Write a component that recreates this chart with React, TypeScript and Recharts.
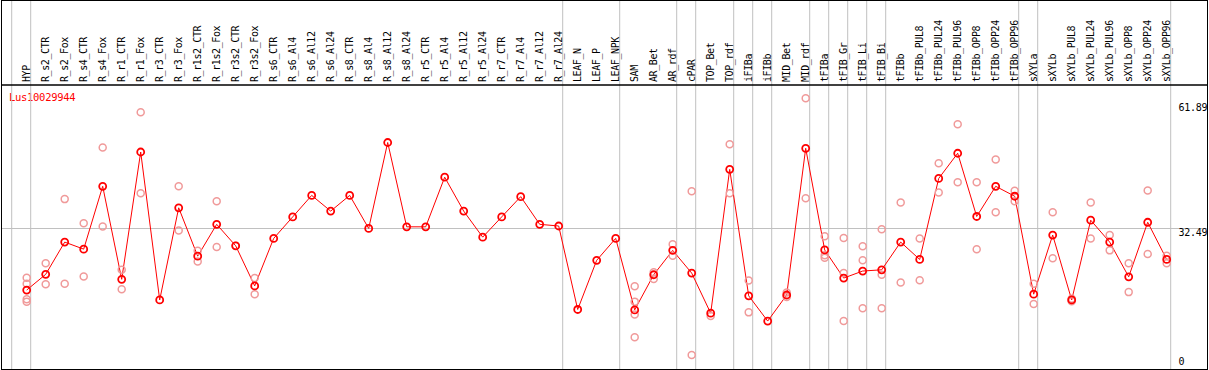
import { ComposedChart, Customized, Line, ReferenceLine, Scatter, XAxis, YAxis } from "recharts"

const geneId = "Lus10029944"

const categories = [
    "HYP", "R_s2_CTR", "R_s2_Fox", "R_s4_CTR", "R_s4_Fox", "R_r1_CTR", "R_r1_Fox", "R_r3_CTR", "R_r3_Fox",
    "R_r1s2_CTR", "R_r1s2_Fox", "R_r3s2_CTR", "R_r3s2_Fox", "R_s6_CTR", "R_s6_Al4", "R_s6_Al12", "R_s6_Al24",
    "R_s8_CTR", "R_s8_Al4", "R_s8_Al12", "R_s8_Al24", "R_r5_CTR", "R_r5_Al4", "R_r5_Al12", "R_r5_Al24",
    "R_r7_CTR", "R_r7_Al4", "R_r7_Al12", "R_r7_Al24", "LEAF_N", "LEAF_P", "LEAF_NPK", "SAM", "AR_Bet", "AR_rdf",
    "cPAR", "TOP_Bet", "TOP_rdf", "iFIBa", "iFIBb", "MID_Bet", "MID_rdf", "tFIBa", "tFIB_Gr", "tFIB_Li", "tFIB_Bi",
    "tFIBb", "tFIBb_PUL8", "tFIBb_PUL24", "tFIBb_PUL96", "tFIBb_OPP8", "tFIBb_OPP24", "tFIBb_OPP96",
    "sXYLa", "sXYLb", "sXYLb_PUL8", "sXYLb_PUL24", "sXYLb_PUL96", "sXYLb_OPP8", "sXYLb_OPP24", "sXYLb_OPP96",
]

const means = [
    17.6, 21.4, 29.2, 27.5, 42.7, 20.2, 51.0, 15.2, 37.5,
    25.8, 33.5, 28.3, 18.6, 30.1, 35.3, 40.5, 36.7,
    40.5, 32.5, 53.3, 32.9, 32.9, 44.9, 36.7, 30.4,
    35.3, 40.2, 33.5, 33.1, 12.9, 24.8, 30.1, 12.8, 21.3, 27.2,
    21.7, 12.0, 46.8, 16.2, 10.1, 16.4, 51.9, 27.3, 20.5, 22.2, 22.5,
    29.2, 25.0, 44.6, 50.7, 35.4, 42.7, 40.3,
    16.6, 30.9, 15.2, 34.5, 29.2, 20.8, 34.0, 25.0,
]

// individual samples per category (same order as categories)
const replicates: number[][] = [
    [20.6, 19.1, 15.4, 14.8], [24.1, 19.0], [39.6, 19.1], [33.75, 20.9], [52.1, 33.0], [22.5, 17.8], [60.6, 41.0], [], [42.7, 32.0],
    [27.1, 24.5], [39.1, 28.0], [28.3], [20.5, 16.6], [], [], [], [],
    [], [], [], [], [], [], [], [],
    [], [], [], [], [], [], [], [18.5, 14.8, 11.7, 6.2], [21.9, 20.3], [28.7, 25.9],
    [41.5, 1.9], [11.3], [52.9, 41.0], [19.9, 12.2], [], [17.0, 15.9], [64.0, 39.8], [30.6, 26.0, 25.4], [30.2, 21.7, 10.1], [28.2, 24.8, 13.2], [32.3, 21.3, 13.2],
    [38.8, 19.4], [30.1, 20.0], [48.3, 41.2], [57.7, 43.7], [43.7, 27.5], [49.2, 36.4], [41.6, 39.1],
    [19.1, 14.2], [36.4, 25.3], [15.5, 14.9], [38.8, 30.1], [30.9, 27.2], [24.1, 17.1], [41.7, 26.3], [25.9, 24.1],
]

// group separators are drawn after these category indices
const groupEnds = [-1, 0, 28, 31, 34, 35, 37, 38, 39, 41, 42, 43, 44, 45, 52, 53, 60]

const yTicks = [0, 32.49, 61.89]

const X_DOMAIN: [number, number] = [-1.3526, 62.121]
const Y_DOMAIN: [number, number] = [-1.5, 67.21]
const Y_TOP = 87.77 // value at the very top of the label band

const lineData = categories.map((name, idx) => ({ idx, name, mean: means[idx] }))
const sampleData = replicates.flatMap((vals, idx) => vals.map((v) => ({ idx, mean: v })))

const mono = "'DejaVu Sans Mono', 'Liberation Mono', monospace"

function CategoryTick(props: any) {
    const { x, payload } = props
    return (
        <text
            transform={`translate(${x + 3},82) rotate(-90)`}
            textAnchor="start"
            fontFamily={mono}
            fontSize={10}
            letterSpacing={-0.4}
            fill="#000"
        >
            {categories[payload.value]}
        </text>
    )
}

function ValueTick(props: any) {
    const { y, payload } = props
    const v = payload.value
    const dy = v === 0 ? 2.5 : v === yTicks[yTicks.length - 1] ? 4 : 7.5
    return (
        <text x={1178.5} y={y + dy} fontFamily={mono} fontSize={10} letterSpacing={-0.3} fill="#000" textAnchor="start">
            {v}
        </text>
    )
}

const sampleShape = (p: any) => (
    <circle cx={p.cx} cy={p.cy} r={3.5} fill="none" stroke="#f09a9a" strokeWidth={1.5} />
)

export default function App() {
    return (
        <div style={{ position: "absolute", left: 0, top: 0, width: 1209, height: 370, background: "#fff" }}>
            <ComposedChart width={1209} height={370} data={lineData} margin={{ top: 0, right: 2, bottom: 1, left: 1 }}>
                <XAxis
                    dataKey="idx"
                    type="number"
                    orientation="top"
                    height={85}
                    domain={X_DOMAIN}
                    allowDataOverflow
                    ticks={categories.map((_, i) => i)}
                    interval={0}
                    tickLine={false}
                    tickSize={0}
                    axisLine={{ stroke: "#000", strokeWidth: 1.5 }}
                    tick={<CategoryTick />}
                />
                <YAxis
                    type="number"
                    orientation="right"
                    mirror
                    width={30}
                    domain={Y_DOMAIN}
                    allowDataOverflow
                    ticks={yTicks}
                    interval={0}
                    axisLine={false}
                    tickLine={false}
                    tick={<ValueTick />}
                />
                {groupEnds.map((g) => (
                    <ReferenceLine
                        key={g}
                        ifOverflow="visible"
                        segment={[{ x: g + 4 / 19, y: Y_TOP }, { x: g + 4 / 19, y: Y_DOMAIN[0] }]}
                        stroke="#c0c0c0"
                        strokeWidth={1}
                    />
                ))}
                <ReferenceLine y={yTicks[1]} stroke="#c0c0c0" strokeWidth={1} />
                <Scatter data={sampleData} dataKey="mean" shape={sampleShape} isAnimationActive={false} />
                <Line
                    dataKey="mean"
                    stroke="#ff0000"
                    strokeWidth={1}
                    dot={{ r: 3.5, stroke: "#ff0000", strokeWidth: 1.8, fill: "none" }}
                    activeDot={false}
                    isAnimationActive={false}
                />
                <Customized
                    component={() => (
                        <text x={9} y={101} fontFamily={mono} fontSize={10.5} letterSpacing={-0.3} fill="#ff0000">
                            {geneId}
                        </text>
                    )}
                />
            </ComposedChart>
            <div
                style={{
                    position: "absolute",
                    left: 1,
                    top: 0,
                    width: 1207,
                    height: 370,
                    boxSizing: "border-box",
                    border: "1.5px solid #000",
                    pointerEvents: "none",
                }}
            />
        </div>
    )
}
